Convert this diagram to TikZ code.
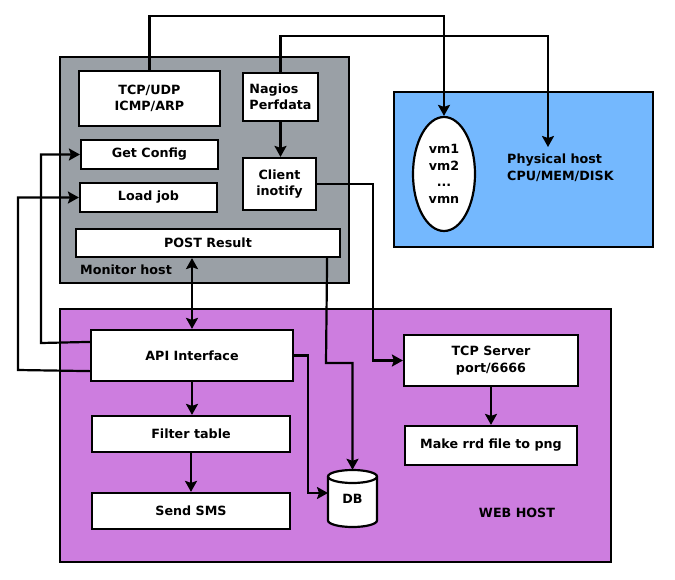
\documentclass[tikz,border=0pt]{standalone}
\usepackage{fontspec}
\setmainfont{DejaVu Sans}
\usetikzlibrary{arrows.meta,calc,shapes.geometric}
\definecolor{mongray}{HTML}{9AA0A6}
\definecolor{physblue}{HTML}{74B8FE}
\definecolor{webpurple}{HTML}{CD7DDF}
\begin{document}
\begin{tikzpicture}[x=1pt,y=-1pt,
  every node/.style={font=\fontsize{12.7}{16.5}\selectfont\bfseries},
  box/.style={draw,line width=2.2pt,fill=white,inner sep=0pt,align=center},
  area/.style={draw,line width=2.2pt},
  conn/.style={line width=2.2pt},
  arr/.style={conn,-{Stealth[length=11pt,width=12pt,inset=2pt]}},
  arrboth/.style={conn,{Stealth[length=11pt,width=12pt,inset=2pt]}-{Stealth[length=11pt,width=12pt,inset=2pt]}},
  lbl/.style={anchor=west,inner sep=0pt,align=left}]
\useasboundingbox (0,0) rectangle (675,579);
% areas
\filldraw[area,fill=mongray] (60,57) rectangle (349,283);
\filldraw[area,fill=physblue] (394,92) rectangle (653,247);
\filldraw[area,fill=webpurple] (60,309) rectangle (611,562);
% monitor host boxes
\node[box,minimum width=141,minimum height=55] (tcp) at (149.5,98.5) {TCP/UDP\\ICMP/ARP};
\node[box,minimum width=75,minimum height=48,align=left] (nag) at (280.5,97) {Nagios\\Perfdata};
\node[box,minimum width=137,minimum height=29] (get) at (149.5,154.5) {Get Config};
\node[box,minimum width=137,minimum height=29] (load) at (148.5,197.5) {Load job};
\node[box,minimum width=73,minimum height=52] (cli) at (279.5,184) {Client\\inotify};
\node[box,minimum width=264,minimum height=28] (post) at (208,243) {POST Result};
\node[lbl] (monlbl) at (80,270) {Monitor host};
% physical host
\node[box,ellipse,minimum width=62,minimum height=114] (vm) at (444,174) {vm1\\vm2\\...\\vmn};
\node[lbl] (physlbl) at (507,168) {Physical host\\CPU/MEM/DISK};
\coordinate (physin) at (548,147);
% web host
\node[box,minimum width=202,minimum height=51] (api) at (192,355.5) {API Interface};
\node[box,minimum width=198,minimum height=36] (filt) at (191,434) {Filter table};
\node[box,minimum width=198,minimum height=36] (sms) at (191,511) {Send SMS};
\node[box,minimum width=174,minimum height=51] (tcps) at (491,360.5) {TCP Server\\port/6666};
\node[box,minimum width=172,minimum height=39] (rrd) at (491,445.5) {Make rrd file to png};
\node[lbl,anchor=center] (weblbl) at (517,513) {WEB HOST};
% DB cylinder
\filldraw[line width=2.2pt,fill=white] (328,476.5) -- (328,520.5)
  arc[start angle=180,end angle=0,x radius=24.5,y radius=6.5] -- (377,476.5)
  arc[start angle=0,end angle=-180,x radius=24.5,y radius=6.5] -- cycle;
\draw[line width=2.2pt] (328,476.5) arc[start angle=180,end angle=0,x radius=24.5,y radius=6.5];
\node[inner sep=0pt,minimum width=49,minimum height=57] (db) at (352.5,498.5) {DB};
\coordinate (dbin) at (328,493);
% connectors
\draw[arr] (tcp.north) -- (149.5,16) -| (vm.north);
\draw[arr] (nag.north) -- (280.5,36) -| (physin);
\draw[arr] (nag.south) -- (nag.south |- cli.north);
\draw[arr] (cli.east) -- (373,184) |- (tcps.west);
\draw[arrboth] (api.north |- post.south) -- (api.north);
\draw[arr] ($(post.south east)+(-14,0)$) -- (326,363) -| (db.north);
\draw[arr] (api.east) -- (308,355.5) |- (dbin);
\draw[arr] ($(api.north west)+(0,13)$) -- (41,343) |- (get.west);
\draw[arr] ($(api.south west)+(0,-11)$) -- (18,370) |- (load.west);
\draw[arr] (api.south) -- (api.south |- filt.north);
\draw[arr] (filt.south) -- (filt.south |- sms.north);
\draw[arr] (tcps.south) -- (tcps.south |- rrd.north);
\end{tikzpicture}
\end{document}
